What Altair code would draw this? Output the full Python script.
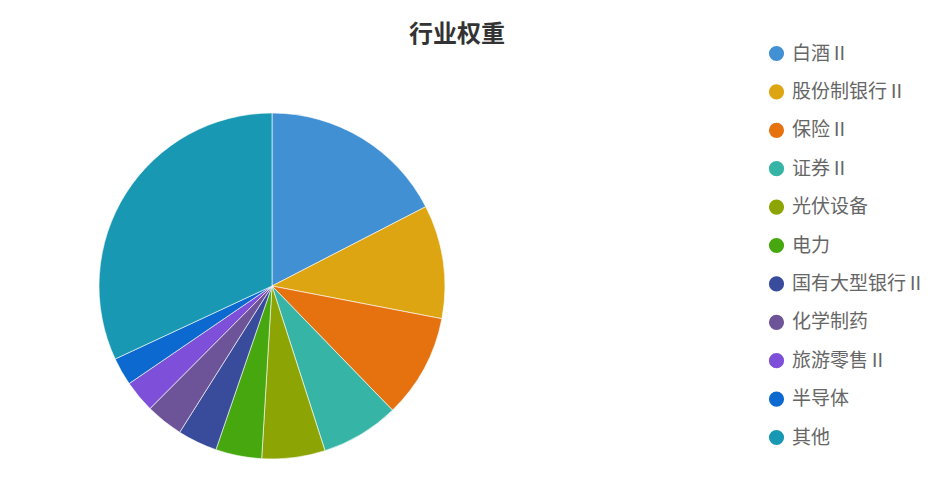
import altair as alt
import pandas as pd

categories = ["白酒Ⅱ", "股份制银行Ⅱ", "保险Ⅱ", "证券Ⅱ", "光伏设备", "电力",
              "国有大型银行Ⅱ", "化学制药", "旅游零售Ⅱ", "半导体", "其他"]
weights = [17.4, 10.6, 9.7, 7.3, 5.9, 4.3, 3.7, 3.5, 3.0, 2.6, 31.9]
colors = ["#4290d4", "#dea512", "#e5710f", "#36b5a6", "#8ca404", "#47a70e",
          "#394b9b", "#6d5498", "#7e4fd8", "#0b69d0", "#1998b3"]

df = pd.DataFrame({"行业": categories, "权重": weights, "序号": list(range(len(categories)))})

FONT = "Noto Sans CJK SC"

chart = alt.Chart(df).mark_arc(
    outerRadius=173, stroke="#ffffff", strokeWidth=0.6
).encode(
    theta=alt.Theta("权重:Q", stack=True),
    order=alt.Order("序号:Q", sort="ascending"),
    color=alt.Color(
        "行业:N",
        scale=alt.Scale(domain=categories, range=colors),
        sort=categories,
        legend=alt.Legend(
            title=None, orient="none", legendX=759, legendY=-64,
            symbolType="circle", symbolSize=230, symbolStrokeWidth=0,
            labelFont=FONT, labelFontSize=19, labelColor="#666666",
            labelOffset=6, rowPadding=18.4, padding=0, labelLimit=300,
        ),
    ),
    tooltip=["行业:N", "权重:Q"],
).properties(
    width=528,
    height=356,
    autosize="none",
    padding={"left": 0, "top": 100, "right": 406, "bottom": 11},
    title=alt.TitleParams(
        "行业权重", font=FONT, fontSize=24, fontWeight="bold", color="#333333",
        anchor="middle", dx=185, offset=-3,
    ),
).configure_view(stroke=None)

chart.save("out.html", embed_options={"renderer": "svg", "actions": False})
